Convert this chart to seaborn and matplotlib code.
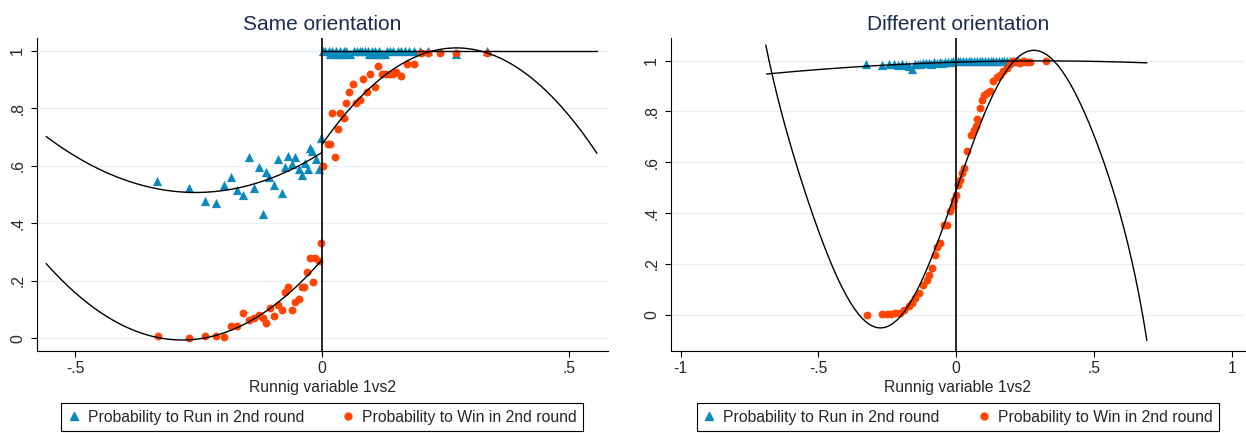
import numpy as np
import pandas as pd
import matplotlib
matplotlib.use("Agg")
import matplotlib.pyplot as plt
from matplotlib.lines import Line2D
import seaborn as sns

# ---- data (binned means) ----
# Same orientation: probability to run, left of cutoff
same_run_neg_x = [-0.334, -0.270, -0.238, -0.216, -0.198, -0.185, -0.172, -0.160, -0.149, -0.139,
                  -0.129, -0.121, -0.113, -0.107, -0.097, -0.089, -0.082, -0.075, -0.069, -0.062,
                  -0.055, -0.047, -0.042, -0.035, -0.029, -0.025, -0.020, -0.013, -0.007, -0.002]
same_run_neg_y = [0.547, 0.524, 0.478, 0.470, 0.533, 0.561, 0.515, 0.498, 0.632, 0.524,
                  0.596, 0.434, 0.578, 0.560, 0.533, 0.623, 0.505, 0.595, 0.633, 0.606,
                  0.632, 0.588, 0.570, 0.609, 0.588, 0.661, 0.652, 0.623, 0.588, 0.698]
# right of cutoff
same_run_pos_x = [0.001, 0.006, 0.013, 0.019, 0.028, 0.035, 0.043, 0.048, 0.064, 0.070,
                  0.076, 0.081, 0.086, 0.092, 0.101, 0.107, 0.114, 0.131, 0.137, 0.144,
                  0.153, 0.160, 0.168, 0.175, 0.185, 0.198, 0.215, 0.270, 0.333,
                  0.016, 0.023, 0.029, 0.036, 0.043, 0.049, 0.057, 0.094, 0.101, 0.107,
                  0.114, 0.121, 0.127]
same_run_pos_y = [1.0, 1.0, 1.0, 1.0, 1.0, 1.0, 1.0, 1.0, 1.0, 1.0,
                  1.0, 1.0, 1.0, 1.0, 1.0, 1.0, 1.0, 1.0, 1.0, 1.0,
                  1.0, 1.0, 1.0, 1.0, 1.0, 1.0, 1.0, 0.99, 1.0,
                  0.99, 0.99, 0.99, 0.99, 0.99, 0.99, 0.99, 0.99, 0.99, 0.99,
                  0.99, 0.99, 0.99]
# probability to win, left of cutoff
same_win_neg_x = [-0.333, -0.270, -0.238, -0.216, -0.198, -0.185, -0.172, -0.160, -0.149, -0.139,
                  -0.129, -0.121, -0.113, -0.105, -0.097, -0.089, -0.082, -0.075, -0.069, -0.062,
                  -0.055, -0.047, -0.041, -0.036, -0.031, -0.025, -0.019, -0.014, -0.007, -0.002]
same_win_neg_y = [0.007, 0.000, 0.007, 0.007, 0.006, 0.044, 0.044, 0.089, 0.063, 0.070,
                  0.080, 0.070, 0.052, 0.107, 0.079, 0.115, 0.098, 0.160, 0.179, 0.098,
                  0.127, 0.136, 0.179, 0.179, 0.232, 0.278, 0.196, 0.278, 0.269, 0.332]
# right of cutoff
same_win_pos_x = [0.002, 0.011, 0.016, 0.020, 0.025, 0.031, 0.036, 0.043, 0.049, 0.055,
                  0.063, 0.069, 0.076, 0.082, 0.091, 0.097, 0.106, 0.113, 0.121, 0.129,
                  0.137, 0.144, 0.150, 0.160, 0.172, 0.185, 0.200, 0.215, 0.238, 0.270, 0.333]
same_win_pos_y = [0.599, 0.675, 0.675, 0.784, 0.630, 0.729, 0.784, 0.765, 0.820, 0.856,
                  0.884, 0.820, 0.829, 0.901, 0.856, 0.920, 0.875, 0.948, 0.920, 0.920,
                  0.920, 0.920, 0.928, 0.911, 0.954, 0.954, 0.992, 0.991, 0.991, 0.991, 0.991]

# fitted curves as drawn in the chart
same_run_fit_neg_x = [-0.559, -0.412, -0.369, -0.268, -0.167, -0.132, -0.099, -0.032, 0.0]
same_run_fit_neg_y = [0.704, 0.551, 0.540, 0.510, 0.519, 0.545, 0.560, 0.618, 0.644]
same_run_fit_pos_x = [0.0, 0.28, 0.557]
same_run_fit_pos_y = [1.0, 1.0, 1.0]
same_win_fit_neg_x = [-0.559, -0.369, -0.290, -0.200, -0.099, -0.092, 0.0]
same_win_fit_neg_y = [0.261, 0.019, -0.008, 0.017, 0.110, 0.133, 0.270]
same_win_fit_pos_x = [0.0, 0.043, 0.110, 0.178, 0.259, 0.450, 0.556]
same_win_fit_pos_y = [0.679, 0.774, 0.885, 0.970, 1.012, 0.870, 0.641]

# Different orientation
diff_run_x = [-0.329, -0.269, -0.245, -0.227, -0.210, -0.195, -0.182, -0.170, -0.160, -0.150,
              -0.140, -0.130, -0.120, -0.110, -0.100, -0.090, -0.080, -0.070, -0.060, -0.050,
              -0.040, -0.030, -0.020, -0.010, 0.005, 0.015, 0.025, 0.035, 0.045, 0.055,
              0.065, 0.075, 0.085, 0.095, 0.105, 0.115, 0.125, 0.135, 0.145, 0.155,
              0.165, 0.175, 0.185, 0.195, 0.210, 0.225, 0.245]
diff_run_y = [0.985, 0.984, 0.986, 0.985, 0.982, 0.986, 0.984, 0.978, 0.968, 0.985,
              0.988, 0.986, 0.990, 0.989, 0.991, 0.988, 0.993, 0.990, 0.994, 0.992,
              0.995, 0.994, 0.996, 0.997, 0.999, 1.0, 0.999, 1.0, 1.0, 0.999,
              1.0, 1.0, 1.0, 0.999, 1.0, 1.0, 1.0, 1.0, 1.0, 0.999,
              1.0, 1.0, 1.0, 1.0, 1.0, 1.0, 1.0]
diff_win_x = [-0.325, -0.269, -0.251, -0.236, -0.221, -0.203, -0.188, -0.173, -0.160, -0.148,
              -0.136, -0.120, -0.106, -0.097, -0.088, -0.076, -0.068, -0.058, -0.046, -0.034,
              -0.024, -0.012, -0.007, 0.000, 0.005, 0.012, 0.021, 0.027, 0.039, 0.053,
              0.063, 0.072, 0.077, 0.087, 0.093, 0.101, 0.111, 0.123, 0.135, 0.147,
              0.159, 0.171, 0.183, 0.195, 0.207, 0.219, 0.231, 0.243, 0.256, 0.268, 0.325]
diff_win_y = [0.000, 0.004, 0.004, 0.004, 0.007, 0.007, 0.020, 0.035, 0.048, 0.066,
              0.085, 0.118, 0.138, 0.157, 0.184, 0.236, 0.266, 0.282, 0.354, 0.354,
              0.407, 0.427, 0.453, 0.472, 0.512, 0.531, 0.558, 0.578, 0.643, 0.709,
              0.728, 0.741, 0.772, 0.814, 0.846, 0.866, 0.873, 0.879, 0.919, 0.936,
              0.945, 0.958, 0.971, 0.988, 0.997, 0.993, 0.991, 0.997, 0.993, 0.993, 0.997]

diff_run_fit_x = [-0.688, -0.349, 0.0, 0.377, 0.692]
diff_run_fit_y = [0.949, 0.972, 0.996, 1.000, 0.990]
diff_win_fit_x = [-0.691, -0.597, -0.554, -0.482, -0.386, -0.337, -0.283, -0.204, -0.143, -0.083,
                  -0.047, -0.022, 0.0, 0.026, 0.074, 0.135, 0.195, 0.274, 0.328, 0.382,
                  0.454, 0.526, 0.591, 0.627, 0.692]
diff_win_fit_y = [1.051, 0.714, 0.452, 0.256, 0.046, 0.007, -0.029, 0.007, 0.085, 0.216,
                  0.321, 0.400, 0.472, 0.595, 0.767, 0.885, 0.976, 1.026, 1.009, 0.955,
                  0.832, 0.649, 0.400, 0.256, -0.098]

y_ticks = [0, 0.2, 0.4, 0.6, 0.8, 1]
y_ticklabels = ["0", ".2", ".4", ".6", ".8", "1"]
same_xticks = [-0.5, 0, 0.5]
same_xticklabels = ["-.5", "0", ".5"]
diff_xticks = [-1, -0.5, 0, 0.5, 1]
diff_xticklabels = ["-1", "-.5", "0", ".5", "1"]

BLUE = "#0a89bd"
ORANGE = "#ff4500"
TITLE_COL = "#1c2b4f"
FS = 11.3

sns.set_theme(style="white")
plt.rcParams["font.family"] = ["Liberation Sans", "DejaVu Sans"]

fig = plt.figure(figsize=(12.46, 4.33), dpi=100)
ax1 = fig.add_axes([0.0295, 0.1894, 0.4583, 0.7229])
ax2 = fig.add_axes([0.5383, 0.1894, 0.4609, 0.7229])


def fit_line(ax, x, y, order):
    sns.regplot(x=x, y=y, order=order, scatter=False, ci=None, truncate=True, ax=ax,
                line_kws={"color": "black", "lw": 1.0, "zorder": 5})


def style_axis(ax, title, xticks, xticklabels, xlim, ylim):
    ax.set_xlim(*xlim)
    ax.set_ylim(*ylim)
    ax.set_yticks(y_ticks)
    ax.set_yticklabels(y_ticklabels, rotation=90, va="center", fontsize=FS)
    ax.set_xticks(xticks)
    ax.set_xticklabels(xticklabels, fontsize=FS)
    ax.tick_params(axis="both", direction="out", length=4.3, width=0.8, color="black",
                   bottom=True, left=True)
    ax.tick_params(axis="y", pad=4)
    ax.tick_params(axis="x", pad=3)
    ax.set_axisbelow(True)
    ax.yaxis.grid(True, color="#e7eff1", lw=1.0)
    ax.xaxis.grid(False)
    for s in ["top", "right"]:
        ax.spines[s].set_visible(False)
    for s in ["left", "bottom"]:
        ax.spines[s].set_color("black")
        ax.spines[s].set_linewidth(0.8)
    ax.set_title(title, fontsize=15, color=TITLE_COL, pad=6)
    ax.set_xlabel("Runnig variable 1vs2", fontsize=FS, labelpad=3)
    ax.set_ylabel("")
    ax.axvline(0, color="black", lw=1.2, zorder=4)
    handles = [
        Line2D([], [], marker="^", color=BLUE, linestyle="", markersize=5.5),
        Line2D([], [], marker="o", color=ORANGE, linestyle="", markersize=5),
    ]
    leg = ax.legend(handles, ["Probability to Run in 2nd round", "Probability to Win in 2nd round"],
                    loc="upper center", bbox_to_anchor=(0.5, -0.167), ncol=2, fontsize=FS,
                    frameon=True, fancybox=False, framealpha=1, edgecolor="black",
                    handlelength=0.8, handletextpad=0.5, columnspacing=2.4,
                    borderpad=0.4, borderaxespad=0)
    leg.get_frame().set_linewidth(0.8)


# left panel: Same orientation
for xs, ys in [(same_run_neg_x, same_run_neg_y), (same_run_pos_x, same_run_pos_y)]:
    sns.scatterplot(x=xs, y=ys, marker="^", s=44, color=BLUE, linewidth=0, ax=ax1, zorder=2)
for xs, ys in [(same_win_neg_x, same_win_neg_y), (same_win_pos_x, same_win_pos_y)]:
    sns.scatterplot(x=xs, y=ys, marker="o", s=32, color=ORANGE, linewidth=0, ax=ax1, zorder=3)

fit_line(ax1, same_run_fit_neg_x, same_run_fit_neg_y, 2)
fit_line(ax1, same_run_fit_pos_x, same_run_fit_pos_y, 1)
fit_line(ax1, same_win_fit_neg_x, same_win_fit_neg_y, 2)
fit_line(ax1, same_win_fit_pos_x, same_win_fit_pos_y, 2)

style_axis(ax1, "Same orientation", same_xticks, same_xticklabels, (-0.578, 0.578), (-0.044, 1.045))

# right panel: Different orientation
sns.scatterplot(x=diff_run_x, y=diff_run_y, marker="^", s=44, color=BLUE, linewidth=0, ax=ax2, zorder=2)
sns.scatterplot(x=diff_win_x, y=diff_win_y, marker="o", s=32, color=ORANGE, linewidth=0, ax=ax2, zorder=3)

fit_line(ax2, diff_run_fit_x, diff_run_fit_y, 2)
fit_line(ax2, diff_win_fit_x, diff_win_fit_y, 7)

style_axis(ax2, "Different orientation", diff_xticks, diff_xticklabels, (-1.036, 1.048), (-0.142, 1.089))

fig.savefig("out.png", dpi=100)
